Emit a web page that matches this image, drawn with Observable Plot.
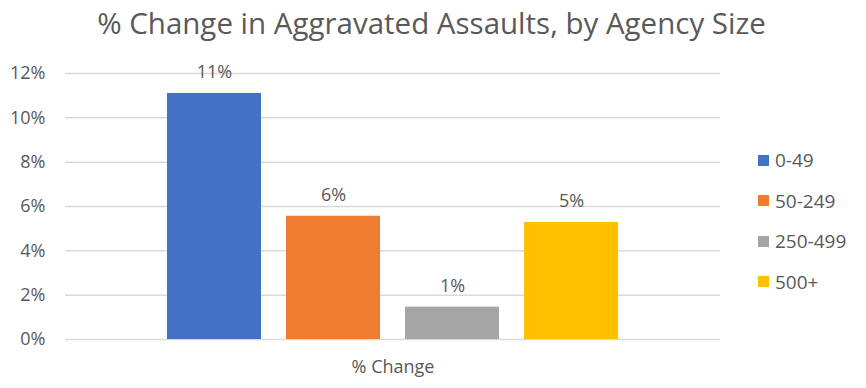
<!DOCTYPE html>
<html>
<head>
<meta charset="utf-8">
<script src="https://cdn.jsdelivr.net/npm/d3@7"></script>
<script src="https://cdn.jsdelivr.net/npm/@observablehq/plot@0.6"></script>
<style>
  html, body { margin: 0; padding: 0; background: #fff; }
  #wrap { position: relative; width: 866px; height: 388px; font-family: "Open Sans", sans-serif; }
  #legend { position: absolute; left: 758px; top: 140px; color: #595959; font-size: 19px; }
  .item { display: flex; align-items: center; height: 40.5px; }
  .sw { width: 11px; height: 11px; margin-right: 6px; }
</style>
</head>
<body>
<div id="wrap"></div>
<script>
const title = "% Change in Aggravated Assaults, by Agency Size";
const category = "% Change";
const series = ["0-49", "50-249", "250-499", "500+"];
const values = [11.1, 5.56, 1.46, 5.28];
const colors = ["#4472C4", "#ED7D31", "#A5A5A5", "#FFC000"];
const yTicks = [0, 2, 4, 6, 8, 10, 12];

const data = series.map((s, i) => ({category, series: s, value: values[i], label: Math.round(values[i]) + "%"}));
const textColor = "#595959";

const chart = Plot.plot({
  width: 866,
  height: 388,
  marginLeft: 65,
  marginRight: 146,
  marginTop: 73,
  marginBottom: 49,
  style: {fontFamily: "'Open Sans', sans-serif", fontSize: "18px", color: textColor, background: "transparent"},
  fx: {domain: [category], padding: 0, label: null, tickSize: 0, tickPadding: 21},
  x: {domain: series, paddingInner: 0.21, paddingOuter: 0.857, axis: null},
  y: {domain: [0, 12], ticks: yTicks, tickFormat: d => d + "%", tickSize: 0, tickPadding: 20, label: null},
  color: {domain: series, range: colors},
  marks: [
    Plot.gridY(yTicks, {stroke: "#D9D9D9", strokeOpacity: 1, strokeWidth: 1.5}),
    Plot.barY(data, {fx: "category", x: "series", y: "value", fill: "series"}),
    Plot.text(data, {fx: "category", x: "series", y: "value", text: "label", dy: -21, fill: textColor, fontSize: 18}),
    Plot.text([title], {frameAnchor: "top", lineAnchor: "middle", dy: -48.5, dx: 38.5, fill: textColor, fontSize: 29.5})
  ]
});
const wrap = document.getElementById("wrap");
wrap.appendChild(chart);

const legend = document.createElement("div");
legend.id = "legend";
series.forEach((s, i) => {
  const it = document.createElement("div");
  it.className = "item";
  const sw = document.createElement("div");
  sw.className = "sw";
  sw.style.background = colors[i];
  const t = document.createElement("span");
  t.textContent = s;
  it.appendChild(sw); it.appendChild(t);
  legend.appendChild(it);
});
wrap.appendChild(legend);
</script>
</body>
</html>
